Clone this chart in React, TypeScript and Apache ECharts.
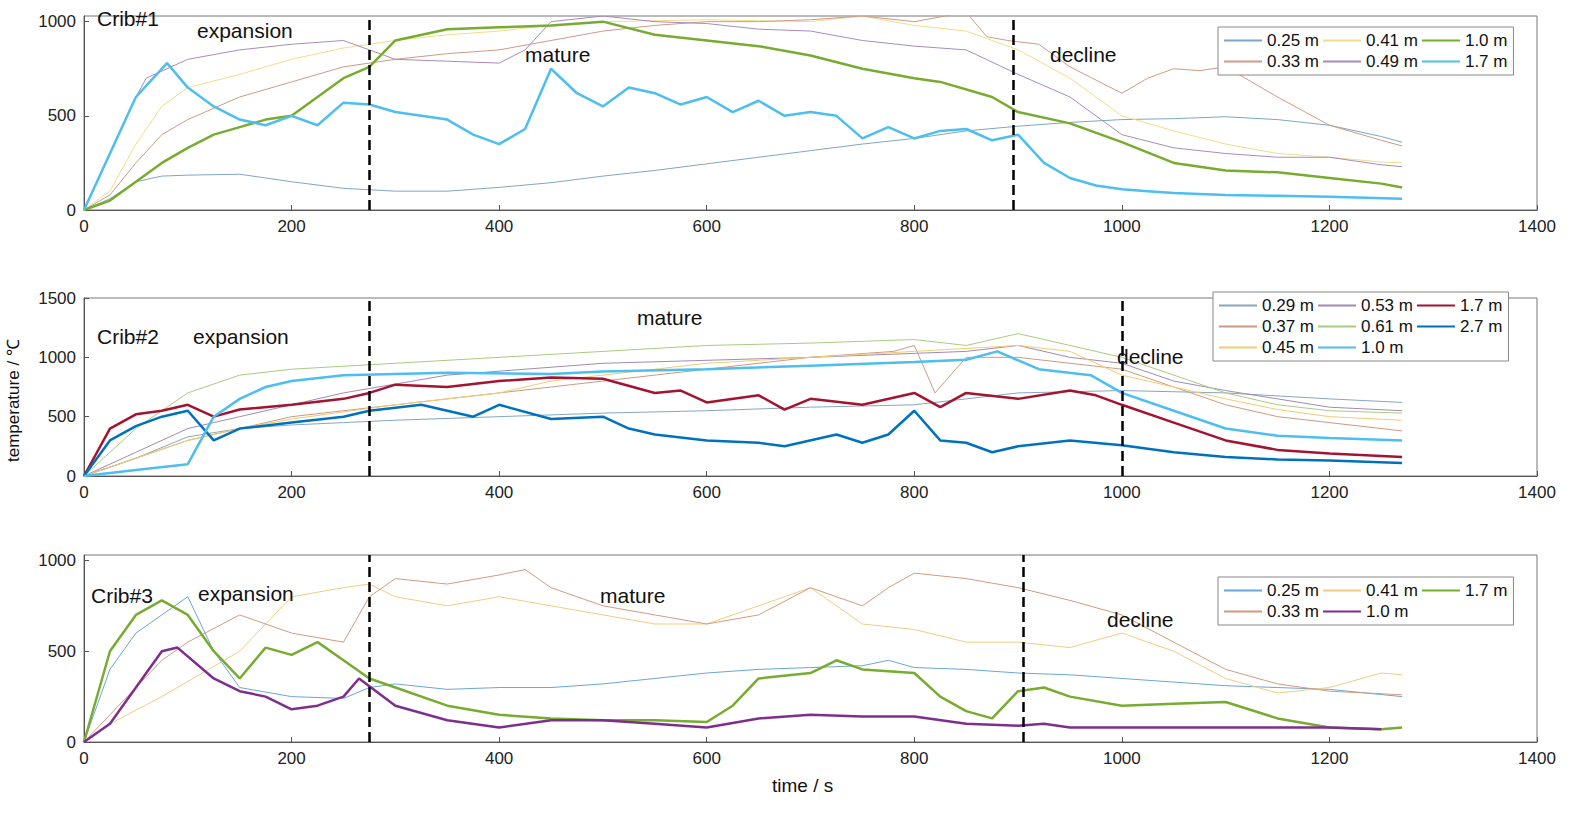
import { useEffect, useRef } from "react";
import * as echarts from "echarts";

type Pt = [number, number];

// Crib#1
const c1_025: Pt[] = [[0,0],[25,60],[50,150],[75,180],[100,185],[150,190],[200,150],[250,115],[300,100],[350,100],[400,120],[450,145],[500,180],[550,210],[600,245],[650,280],[700,315],[750,350],[800,380],[850,420],[900,445],[950,465],[1000,480],[1050,485],[1100,495],[1150,480],[1200,450],[1250,390],[1270,360]];
const c1_033: Pt[] = [[0,0],[25,80],[50,250],[75,400],[100,480],[150,600],[200,680],[250,760],[300,800],[350,830],[400,850],[450,900],[500,950],[550,980],[600,1000],[650,1000],[700,1010],[750,1030],[800,1000],[850,1050],[870,920],[890,900],[920,880],[950,760],[1000,620],[1025,700],[1050,750],[1075,740],[1100,760],[1125,680],[1150,600],[1200,450],[1250,370],[1270,340]];
const c1_041: Pt[] = [[0,0],[25,100],[50,350],[75,550],[100,650],[150,720],[200,800],[250,860],[300,900],[350,930],[400,950],[450,980],[500,1000],[600,1010],[700,1000],[750,1030],[800,980],[850,950],[900,850],[950,700],[1000,500],[1050,420],[1100,350],[1150,300],[1200,280],[1250,255],[1270,250]];
const c1_049: Pt[] = [[0,0],[25,300],[50,600],[60,700],[100,800],[150,850],[200,880],[250,900],[275,850],[300,800],[350,790],[400,780],[425,850],[450,1000],[500,1030],[550,1000],[600,990],[650,960],[700,950],[750,900],[800,870],[850,850],[900,720],[950,600],[1000,400],[1050,330],[1100,300],[1150,280],[1200,280],[1250,240],[1270,230]];
const c1_100: Pt[] = [[0,0],[25,50],[50,150],[75,250],[100,330],[125,400],[150,440],[175,480],[200,500],[225,600],[250,700],[275,760],[300,900],[350,960],[400,970],[450,980],[500,1000],[550,930],[600,900],[650,870],[700,820],[750,750],[800,700],[825,680],[875,600],[900,520],[950,460],[1000,360],[1050,250],[1100,210],[1150,200],[1200,170],[1250,140],[1270,120]];
const c1_170: Pt[] = [[0,0],[25,300],[50,600],[80,780],[100,650],[125,550],[150,480],[175,450],[200,500],[225,450],[250,570],[275,560],[300,520],[325,500],[350,480],[375,400],[400,350],[425,430],[450,750],[475,620],[500,550],[525,650],[550,620],[575,560],[600,600],[625,520],[650,580],[675,500],[700,520],[725,500],[750,380],[775,440],[800,380],[825,420],[850,430],[875,370],[900,400],[925,250],[950,170],[975,130],[1000,110],[1025,100],[1050,90],[1100,80],[1150,75],[1200,70],[1270,60]];

// Crib#2
const c2_029: Pt[] = [[0,0],[50,150],[100,330],[150,400],[200,430],[250,450],[300,470],[400,500],[500,530],[600,550],[700,580],[800,600],[850,650],[900,700],[1000,720],[1100,700],[1200,650],[1270,620]];
const c2_037: Pt[] = [[0,0],[50,150],[100,300],[200,500],[300,600],[400,700],[500,800],[600,900],[700,1000],[780,1050],[800,1100],[820,700],[850,1000],[900,1000],[950,950],[1000,900],[1050,750],[1100,600],[1150,500],[1200,450],[1270,380]];
const c2_045: Pt[] = [[0,0],[50,150],[100,300],[150,400],[200,480],[300,600],[400,700],[450,800],[600,950],[700,1000],[800,1050],[900,1100],[950,1050],[1000,850],[1050,750],[1100,650],[1150,560],[1200,500],[1270,470]];
const c2_053: Pt[] = [[0,0],[50,200],[100,400],[150,500],[250,700],[350,850],[500,950],[700,1000],[850,1050],[900,1100],[950,1000],[1000,950],[1050,800],[1100,720],[1150,650],[1200,580],[1270,550]];
const c2_061: Pt[] = [[0,0],[25,200],[50,400],[100,700],[150,850],[200,900],[300,950],[400,1000],[500,1050],[600,1100],[700,1120],[800,1150],[850,1100],[900,1200],[950,1100],[1000,1000],[1050,850],[1100,700],[1150,600],[1200,550],[1270,530]];
const c2_100: Pt[] = [[0,0],[50,50],[100,100],[125,500],[150,650],[175,750],[200,800],[250,850],[350,870],[450,860],[500,880],[600,900],[700,930],[800,960],[850,980],[880,1050],[920,900],[970,850],[1000,700],[1050,550],[1100,400],[1150,340],[1200,320],[1270,300]];
const c2_170: Pt[] = [[0,0],[25,400],[50,520],[75,550],[100,600],[125,500],[150,560],[200,600],[250,650],[275,700],[300,770],[350,750],[400,800],[450,830],[500,820],[550,700],[575,720],[600,620],[650,680],[675,560],[700,650],[750,600],[800,700],[825,580],[850,700],[900,650],[950,720],[975,680],[1000,600],[1050,450],[1100,300],[1150,220],[1200,190],[1270,160]];
const c2_270: Pt[] = [[0,0],[25,300],[50,420],[75,500],[100,550],[125,300],[150,400],[200,450],[250,500],[275,550],[325,600],[375,500],[400,600],[450,480],[500,500],[525,400],[550,350],[600,300],[650,280],[675,250],[725,350],[750,280],[775,350],[800,550],[825,300],[850,280],[875,200],[900,250],[950,300],[1000,260],[1050,200],[1100,160],[1150,140],[1200,130],[1270,110]];

// Crib#3
const c3_025: Pt[] = [[0,0],[25,400],[50,600],[75,700],[100,800],[125,500],[150,300],[200,250],[250,240],[275,300],[300,320],[350,290],[400,300],[450,300],[500,320],[550,350],[600,380],[650,400],[700,410],[750,420],[775,450],[800,410],[850,400],[900,380],[950,370],[1000,350],[1050,330],[1100,310],[1150,300],[1200,290],[1270,250]];
const c3_033: Pt[] = [[0,0],[50,300],[75,450],[100,550],[150,700],[175,650],[200,600],[250,550],[275,800],[300,900],[350,870],[400,920],[425,950],[450,850],[500,750],[550,700],[600,650],[650,700],[700,850],[750,750],[775,850],[800,930],[850,900],[900,850],[950,780],[1000,700],[1050,550],[1100,400],[1150,320],[1200,280],[1270,260]];
const c3_041: Pt[] = [[0,0],[25,100],[75,250],[150,500],[200,800],[250,850],[275,870],[300,800],[350,750],[400,800],[450,750],[500,700],[550,650],[600,650],[650,750],[700,850],[750,650],[800,620],[850,550],[900,550],[950,520],[1000,600],[1050,500],[1100,350],[1150,270],[1200,300],[1250,380],[1270,370]];
const c3_100: Pt[] = [[0,0],[25,100],[50,300],[75,500],[90,520],[125,350],[150,280],[175,250],[200,180],[225,200],[250,250],[265,350],[300,200],[350,120],[400,80],[450,120],[500,120],[550,100],[600,80],[650,130],[700,150],[750,140],[800,140],[850,100],[900,90],[925,100],[950,80],[1000,80],[1100,80],[1200,80],[1250,70]];
const c3_170: Pt[] = [[0,0],[25,500],[50,700],[75,780],[100,700],[125,500],[150,350],[175,520],[200,480],[225,550],[250,450],[275,350],[300,300],[350,200],[400,150],[450,130],[500,120],[550,120],[600,110],[625,200],[650,350],[700,380],[725,450],[750,400],[800,380],[825,250],[850,170],[875,130],[900,280],[925,300],[950,250],[1000,200],[1050,210],[1100,220],[1150,130],[1200,80],[1250,70],[1270,80]];

const dashes = [[275, 895], [275, 1000], [275, 905]];

type S = { name: string; data: Pt[]; color: string; w: number; g: number };
const series: S[] = [
  { name: "0.25 m#1", data: c1_025, color: "#7ea6c4", w: 1, g: 0 },
  { name: "0.41 m#1", data: c1_041, color: "#f2dc8a", w: 1, g: 0 },
  { name: "1.0 m#1", data: c1_100, color: "#77ac30", w: 2.5, g: 0 },
  { name: "0.33 m#1", data: c1_033, color: "#d09a84", w: 1, g: 0 },
  { name: "0.49 m#1", data: c1_049, color: "#a88ac0", w: 1, g: 0 },
  { name: "1.7 m#1", data: c1_170, color: "#4dbeee", w: 2.5, g: 0 },
  { name: "0.29 m#2", data: c2_029, color: "#86a6c2", w: 1, g: 1 },
  { name: "0.53 m#2", data: c2_053, color: "#a28ab4", w: 1, g: 1 },
  { name: "1.7 m#2", data: c2_170, color: "#a2142f", w: 2.5, g: 1 },
  { name: "0.37 m#2", data: c2_037, color: "#cc9a84", w: 1, g: 1 },
  { name: "0.61 m#2", data: c2_061, color: "#a8cc80", w: 1, g: 1 },
  { name: "2.7 m#2", data: c2_270, color: "#0072bd", w: 2.5, g: 1 },
  { name: "0.45 m#2", data: c2_045, color: "#f2cc70", w: 1, g: 1 },
  { name: "1.0 m#2", data: c2_100, color: "#4dbeee", w: 2.5, g: 1 },
  { name: "0.25 m#3", data: c3_025, color: "#6aa6d6", w: 1, g: 2 },
  { name: "0.41 m#3", data: c3_041, color: "#f2cc80", w: 1, g: 2 },
  { name: "1.7 m#3", data: c3_170, color: "#77ac30", w: 2.5, g: 2 },
  { name: "0.33 m#3", data: c3_033, color: "#d49a80", w: 1, g: 2 },
  { name: "1.0 m#3", data: c3_100, color: "#7e2f8e", w: 2.5, g: 2 },
];

const grids = [
  { top: 16, height: 194, max: 1030, interval: 500 },
  { top: 298, height: 178, max: 1500, interval: 500 },
  { top: 555, height: 187, max: 1030, interval: 500 },
];
const legendPos = [
  { left: 1218, top: 27, width: 322 },
  { left: 1213, top: 292, width: 326 },
  { left: 1218, top: 577, width: 322 },
];

const labels: [string, number, number][] = [
  ["Crib#1", 97, 8], ["expansion", 197, 20], ["mature", 525, 44], ["decline", 1050, 44],
  ["Crib#2", 97, 326], ["expansion", 193, 326], ["mature", 637, 307], ["decline", 1117, 346],
  ["Crib#3", 91, 585], ["expansion", 198, 583], ["mature", 600, 585], ["decline", 1107, 609],
];

const font = "Liberation Sans, Arial, sans-serif";

export default function App() {
  const ref = useRef<HTMLDivElement | null>(null);
  useEffect(() => {
    if (!ref.current) return;
    const chart = echarts.init(ref.current, null, { renderer: "svg" });
    const axisCommon = {
      axisLine: { lineStyle: { color: "#555" } },
      axisTick: { inside: true, lineStyle: { color: "#555" } },
      axisLabel: { color: "#222", fontSize: 17, fontFamily: font, formatter: (v: number) => String(v) },
      splitLine: { show: false },
    };
    chart.setOption({
      animation: false,
      grid: grids.map((g) => ({
        left: 84, right: 52, top: g.top, height: g.height,
        show: true, borderColor: "#777", borderWidth: 1, backgroundColor: "#fff",
      })),
      xAxis: grids.map((_, i) => ({
        type: "value", gridIndex: i, min: 0, max: 1400, interval: 200, ...axisCommon,
      })),
      yAxis: grids.map((g, i) => ({
        type: "value", gridIndex: i, min: 0, max: g.max, interval: g.interval, ...axisCommon,
      })),
      legend: legendPos.map((p, i) => ({
        left: p.left, top: p.top, width: p.width, orient: "horizontal",
        data: series.filter((s) => s.g === i).map((s) => s.name),
        formatter: (n: string) => n.split("#")[0],
        icon: "rect", itemWidth: 38, itemHeight: 2, itemGap: 4, padding: [5, 6],
        borderColor: "#888", borderWidth: 1, backgroundColor: "#fff", borderRadius: 0,
        textStyle: { fontSize: 17, fontFamily: font, color: "#111" },
      })),
      series: [
        ...series.map((s) => ({
          name: s.name, type: "line", xAxisIndex: s.g, yAxisIndex: s.g,
          data: s.data, showSymbol: false, symbol: "none",
          lineStyle: { color: s.color, width: s.w }, itemStyle: { color: s.color },
          z: s.w > 1 ? 3 : 2,
        })),
        ...dashes.map((d, i) => ({
          type: "line", xAxisIndex: i, yAxisIndex: i, data: [], silent: true,
          markLine: {
            symbol: "none", silent: true, label: { show: false },
            lineStyle: { color: "#000", type: "dashed", width: 2.5 },
            data: d.map((x) => ({ xAxis: x })),
          },
        })),
      ],
      graphic: [
        ...labels.map(([t, x, y]) => ({
          type: "text", left: x, top: y, z: 10,
          style: { text: t, fontSize: 21, fontFamily: font, fill: "#111" },
        })),
        {
          type: "text", left: 772, top: 776,
          style: { text: "time / s", fontSize: 19, fontFamily: font, fill: "#111" },
        },
        {
          type: "text", x: 5, y: 462, rotation: Math.PI / 2,
          style: { text: "temperature / ℃", fontSize: 17, fontFamily: font, fill: "#111" },
        },
      ],
    });
    return () => chart.dispose();
  }, []);
  return <div ref={ref} style={{ position: "absolute", left: 0, top: 0, width: 1589, height: 820 }} />;
}
